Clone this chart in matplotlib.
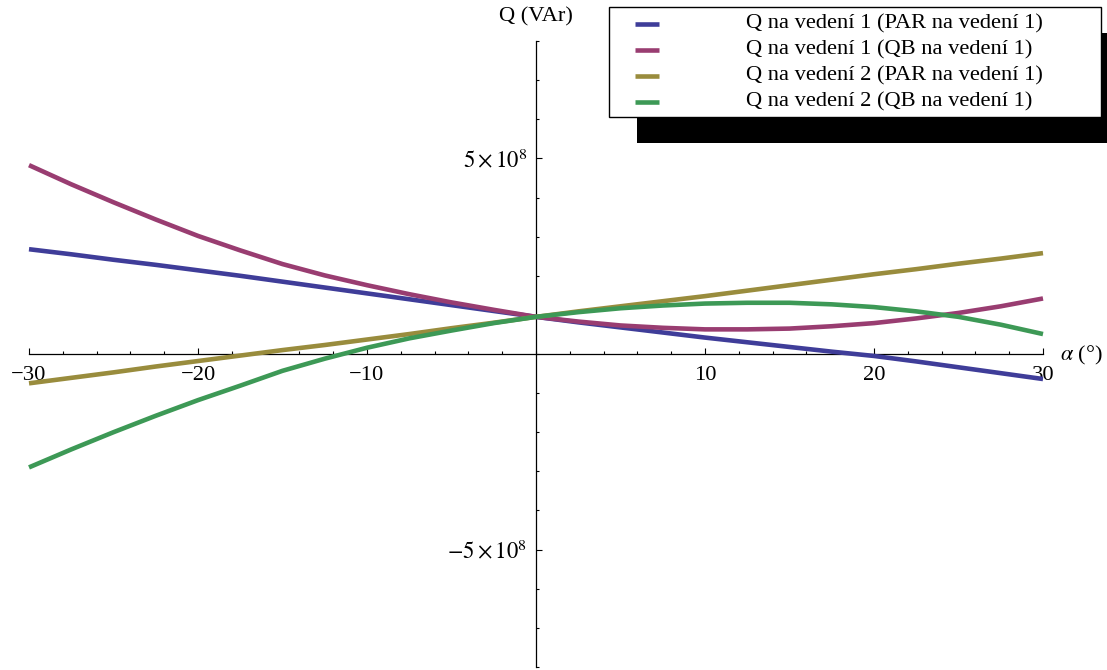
import numpy as np
import matplotlib
matplotlib.use('Agg')
import matplotlib.pyplot as plt
from matplotlib.lines import Line2D
from matplotlib.patches import Rectangle
from matplotlib.ticker import MultipleLocator

plt.rcParams['font.family'] = ['Liberation Serif', 'DejaVu Serif']
plt.rcParams['mathtext.fontset'] = 'stix'

# uhel alfa (stupne) a jalovy vykon v jednotkach 1e8 VAr
alpha = [-30, -27.5, -25, -22.5, -20, -17.5, -15, -12.5, -10, -7.5, -5, -2.5, 0,
         2.5, 5, 7.5, 10, 12.5, 15, 17.5, 20, 22.5, 25, 27.5, 30]
q1_par = [2.68, 2.55, 2.41, 2.28, 2.14, 2.00, 1.85, 1.70, 1.55, 1.40, 1.25, 1.10, 0.95,
          0.81, 0.68, 0.55, 0.42, 0.30, 0.18, 0.06, -0.05, -0.19, -0.34, -0.49, -0.64]
q1_qb = [4.83, 4.34, 3.88, 3.44, 3.02, 2.65, 2.30, 2.01, 1.76, 1.53, 1.32, 1.13, 0.95,
         0.83, 0.73, 0.67, 0.63, 0.63, 0.65, 0.71, 0.79, 0.91, 1.05, 1.22, 1.42]
q2_par = [-0.75, -0.61, -0.47, -0.32, -0.18, -0.04, 0.10, 0.23, 0.37, 0.51, 0.66, 0.80, 0.95,
          1.09, 1.22, 1.35, 1.48, 1.62, 1.76, 1.90, 2.04, 2.17, 2.31, 2.44, 2.58]
q2_qb = [-2.90, -2.44, -2.00, -1.58, -1.18, -0.81, -0.43, -0.12, 0.16, 0.40, 0.60, 0.79, 0.95,
         1.07, 1.17, 1.24, 1.29, 1.31, 1.31, 1.27, 1.20, 1.09, 0.95, 0.75, 0.51]

labels = ['Q na vedení 1 (PAR na vedení 1)',
          'Q na vedení 1 (QB na vedení 1)',
          'Q na vedení 2 (PAR na vedení 1)',
          'Q na vedení 2 (QB na vedení 1)']
colors = ['#3f3d99', '#993d71', '#998c3d', '#3d9956']

x_ticks = [-30, -20, -10, 10, 20, 30]
x_ticklabels = ['\u221230', '\u221220', '\u221210', '10', '20', '30']
y_ticks = [-5e8, 5e8]
y_ticklabels = [r'$-5\times10^{8}$', r'$5\times10^{8}$']

W, H = 1107, 670
fig = plt.figure(figsize=(W / 100, H / 100), dpi=100)
ax = fig.add_axes([29 / W, 1 - 666.8 / H, (1043 - 29) / W, 625.6 / H])

series = [q1_par, q1_qb, q2_par, q2_qb]
for vals, col in zip(series, colors):
    ax.plot(alpha, np.array(vals) * 1e8, color=col, lw=3.3, zorder=3,
            clip_on=False, solid_capstyle='butt', solid_joinstyle='round')

ax.spines['left'].set_position(('data', 0))
ax.spines['bottom'].set_position(('data', 0))
ax.spines['top'].set_visible(False)
ax.spines['right'].set_visible(False)
for s in ['left', 'bottom']:
    ax.spines[s].set_linewidth(0.9)

ax.set_xlim(-30, 30)
ax.set_ylim(-8e8, 8e8)
ax.set_xticks(x_ticks)
ax.set_xticklabels(x_ticklabels)
ax.xaxis.set_minor_locator(MultipleLocator(2))
ax.set_yticks(y_ticks)
ax.set_yticklabels(y_ticklabels)
ax.yaxis.set_minor_locator(MultipleLocator(1e8))
ax.tick_params(which='both', direction='in', width=0.8, colors='black')
ax.tick_params(which='major', length=4.5)
ax.tick_params(which='minor', length=2.5)
ax.tick_params(axis='x', which='major', pad=8.5, labelsize=16.2)
ax.tick_params(axis='y', which='major', pad=6.5, labelsize=16.3)

fig.text(536 / W, 1 - 17 / H, 'Q (VAr)', ha='center', va='center', fontsize=16.2)
fig.text(1060 / W, 1 - 355 / H, r'$\alpha$ (°)', ha='left', va='center', fontsize=16)

# legenda s cernym stinem
fig.add_artist(Rectangle((637 / W, 1 - 143 / H), (1120 - 637) / W, 110 / H,
                         transform=fig.transFigure, facecolor='black',
                         edgecolor='none', zorder=4))
fig.add_artist(Rectangle((609 / W, 1 - 117 / H), 492 / W, 110 / H,
                         transform=fig.transFigure, facecolor='white',
                         edgecolor='black', lw=1.0, zorder=5))
rows = [23.5, 50, 76, 101.5]
for y, lab, col in zip(rows, labels, colors):
    fig.add_artist(Line2D([635 / W, 659 / W], [1 - y / H] * 2, color=col, lw=3.3,
                          solid_capstyle='butt', zorder=6))
    fig.text(746 / W, 1 - y / H, lab, ha='left', va='center', fontsize=16.2, zorder=6)

fig.savefig('out.png', dpi=100)
